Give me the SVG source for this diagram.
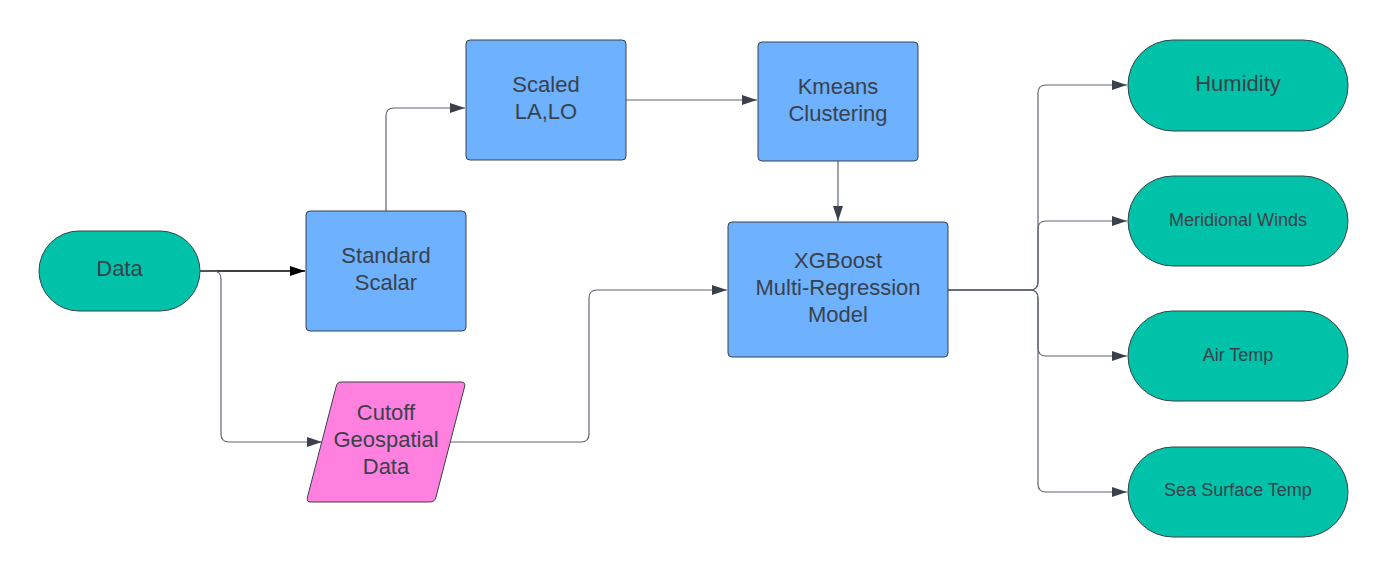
<svg xmlns="http://www.w3.org/2000/svg" width="1388" height="577" viewBox="0 0 1388 577">
<defs>
<style>
.t{font-family:"Liberation Sans",Arial,sans-serif;font-size:22px;fill:#3a414a;text-anchor:middle}
.s{font-size:18px}
.term{fill:#00c2a8;stroke:#3a414a;stroke-width:1}
.proc{fill:#6db1ff;stroke:#3a414a;stroke-width:1}
.io{fill:#ff80df;stroke:#3a414a;stroke-width:1}
.c{fill:none;stroke:#5e6570;stroke-width:1.2}
.cb{fill:none;stroke:#000;stroke-width:1.5}
</style>
<marker id="ah" markerUnits="userSpaceOnUse" markerWidth="16" markerHeight="12" viewBox="0 0 16 12" refX="15" refY="6" orient="auto">
<path d="M0,1 L15,6 L0,11 Z" fill="#3a414a"/>
</marker>
<marker id="ahb" markerUnits="userSpaceOnUse" markerWidth="16" markerHeight="12" viewBox="0 0 16 12" refX="15" refY="6" orient="auto">
<path d="M0,1 L15,6 L0,11 Z" fill="#000"/>
</marker>
</defs>
<rect width="1388" height="577" fill="#fff"/>
<g id="connectors">
<path class="cb" d="M200,271 H305" marker-end="url(#ahb)"/>
<path class="c" d="M200,271 H213 Q221,271 221,279 V434 Q221,442 229,442 H322" marker-end="url(#ah)"/>
<path class="c" d="M386,211 V116 Q386,108 394,108 H465" marker-end="url(#ah)"/>
<path class="c" d="M626,100 H757" marker-end="url(#ah)"/>
<path class="c" d="M838,161 V221" marker-end="url(#ah)"/>
<path class="c" d="M450,442 H581 Q589,442 589,434 V298 Q589,290 597,290 H727" marker-end="url(#ah)"/>
<path class="c" d="M948,290 H1030 Q1038,290 1038,282 V93 Q1038,85 1046,85 H1127" marker-end="url(#ah)"/>
<path class="c" d="M948,290 H1030 Q1038,290 1038,282 V229 Q1038,221 1046,221 H1127" marker-end="url(#ah)"/>
<path class="c" d="M948,290 H1030 Q1038,290 1038,298 V348 Q1038,356 1046,356 H1127" marker-end="url(#ah)"/>
<path class="c" d="M948,290 H1030 Q1038,290 1038,298 V484 Q1038,492 1046,492 H1127" marker-end="url(#ah)"/>
</g>
<g id="data">
<rect class="term" x="39" y="231" width="161" height="80" rx="40"/>
<text class="t" x="119.5" y="276">Data</text>
</g>
<g id="standard-scalar">
<rect class="proc" x="306" y="211" width="160" height="120" rx="4"/>
<text class="t" x="386" y="263">Standard</text>
<text class="t" x="386" y="290">Scalar</text>
</g>
<g id="scaled">
<rect class="proc" x="466" y="40" width="160" height="120" rx="4"/>
<text class="t" x="546" y="92">Scaled</text>
<text class="t" x="546" y="119">LA,LO</text>
</g>
<g id="kmeans">
<rect class="proc" x="758" y="42" width="160" height="119" rx="4"/>
<text class="t" x="838" y="94">Kmeans</text>
<text class="t" x="838" y="121">Clustering</text>
</g>
<g id="xgboost">
<rect class="proc" x="728" y="222" width="220" height="135" rx="4"/>
<text class="t" x="838" y="268">XGBoost</text>
<text class="t" x="838" y="295">Multi-Regression</text>
<text class="t" x="838" y="322">Model</text>
</g>
<g id="cutoff">
<path class="io" d="M341,382 H461 Q466,382 464.5,387 L436,497 Q435,502 430,502 H311 Q306,502 307.5,497 L336,387 Q337,382 341,382 Z"/>
<text class="t" x="386" y="420">Cutoff</text>
<text class="t" x="386" y="447">Geospatial</text>
<text class="t" x="386" y="474">Data</text>
</g>
<g id="humidity">
<rect class="term" x="1128" y="40" width="220" height="91" rx="45"/>
<text class="t" x="1238" y="91">Humidity</text>
</g>
<g id="meridional">
<rect class="term" x="1128" y="176" width="220" height="90" rx="45"/>
<text class="t s" x="1238" y="226">Meridional Winds</text>
</g>
<g id="airtemp">
<rect class="term" x="1128" y="311" width="220" height="90" rx="45"/>
<text class="t s" x="1238" y="361">Air Temp</text>
</g>
<g id="sst">
<rect class="term" x="1128" y="447" width="220" height="90" rx="45"/>
<text class="t s" x="1238" y="496">Sea Surface Temp</text>
</g>
</svg>
